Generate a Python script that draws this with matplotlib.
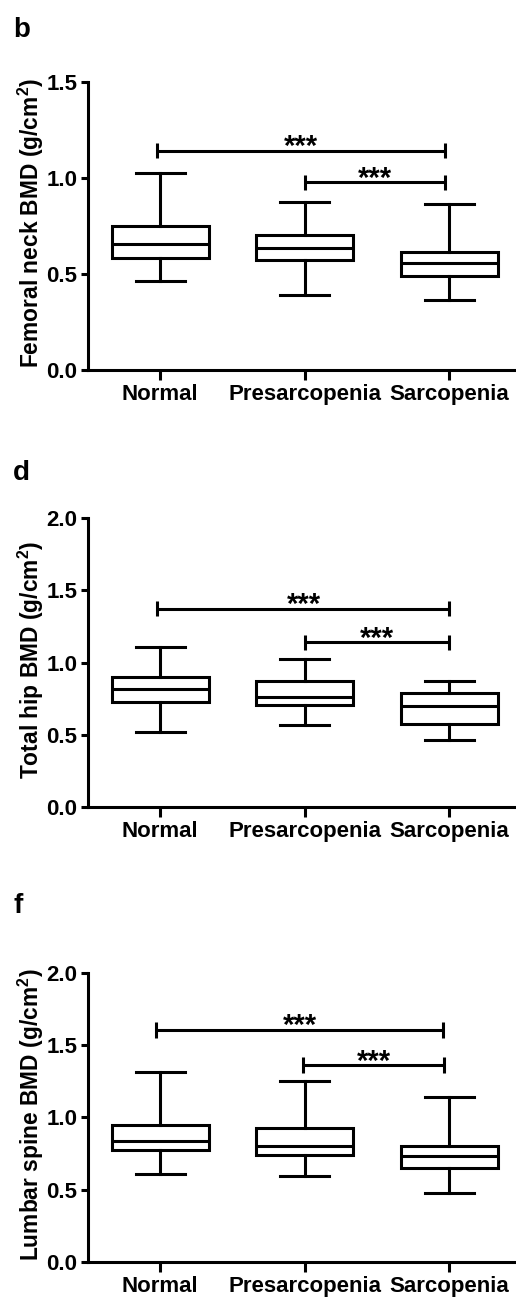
import matplotlib
matplotlib.use('Agg')
import matplotlib.pyplot as plt
from matplotlib.ticker import FormatStrFormatter

plt.rcParams['font.family'] = ['Liberation Sans', 'DejaVu Sans']
plt.rcParams['font.weight'] = 'bold'
plt.rcParams['mathtext.fontset'] = 'custom'
plt.rcParams['mathtext.rm'] = 'Liberation Sans:bold'
plt.rcParams['mathtext.bf'] = 'Liberation Sans:bold'

categories = ['Normal', 'Presarcopenia', 'Sarcopenia']

# Femoral neck BMD (panel b)
fn_whislo = [0.465, 0.388, 0.366]
fn_q1 = [0.584, 0.574, 0.487]
fn_med = [0.654, 0.636, 0.557]
fn_q3 = [0.751, 0.704, 0.612]
fn_whishi = [1.023, 0.876, 0.865]
fn_sig_x = [(-0.02, 1.97), (1.0, 1.97)]
fn_sig_y = [1.141, 0.976]

# Total hip BMD (panel d)
th_whislo = [0.520, 0.566, 0.460]
th_q1 = [0.726, 0.705, 0.573]
th_med = [0.814, 0.758, 0.698]
th_q3 = [0.899, 0.869, 0.791]
th_whishi = [1.105, 1.027, 0.874]
th_sig_x = [(-0.02, 2.0), (1.0, 2.0)]
th_sig_y = [1.373, 1.140]

# Lumbar spine BMD (panel f)
ls_whislo = [0.606, 0.597, 0.476]
ls_q1 = [0.777, 0.742, 0.647]
ls_med = [0.837, 0.805, 0.735]
ls_q3 = [0.948, 0.929, 0.802]
ls_whishi = [1.316, 1.251, 1.142]
ls_sig_x = [(-0.03, 1.955), (0.99, 1.96)]
ls_sig_y = [1.607, 1.362]

sig_text = '***'

panels = [
    dict(label='b', ylabel=r'Femoral neck BMD (g/cm$^{\mathbf{2}}$)',
         lo=fn_whislo, q1=fn_q1, med=fn_med, q3=fn_q3, hi=fn_whishi,
         sx=fn_sig_x, sy=fn_sig_y, ymax=1.5, yticks=[0.0, 0.5, 1.0, 1.5],
         rect=[0.1705, 0.7147, 0.8295, 0.2223], lab_y=37, tick=0.04),
    dict(label='d', ylabel=r'Total hip BMD (g/cm$^{\mathbf{2}}$)',
         lo=th_whislo, q1=th_q1, med=th_med, q3=th_q3, hi=th_whishi,
         sx=th_sig_x, sy=th_sig_y, ymax=2.0, yticks=[0.0, 0.5, 1.0, 1.5, 2.0],
         rect=[0.1705, 0.3780, 0.8295, 0.2224], lab_y=480, tick=0.054),
    dict(label='f', ylabel=r'Lumbar spine BMD (g/cm$^{\mathbf{2}}$)',
         lo=ls_whislo, q1=ls_q1, med=ls_med, q3=ls_q3, hi=ls_whishi,
         sx=ls_sig_x, sy=ls_sig_y, ymax=2.0, yticks=[0.0, 0.5, 1.0, 1.5, 2.0],
         rect=[0.1705, 0.0272, 0.8295, 0.2224], lab_y=913, tick=0.054),
]

W, H = 516, 1297
fig = plt.figure(figsize=(W / 100, H / 100), dpi=100)
lw = 2.2

for p in panels:
    ax = fig.add_axes(p['rect'])
    stats = []
    for i, c in enumerate(categories):
        stats.append(dict(label=c, whislo=p['lo'][i], q1=p['q1'][i], med=p['med'][i],
                          q3=p['q3'][i], whishi=p['hi'][i]))
    ax.bxp(stats, positions=[0, 1, 2], widths=0.67, capwidths=0.34,
           showfliers=False, patch_artist=True,
           boxprops=dict(facecolor='white', edgecolor='black', linewidth=lw),
           medianprops=dict(color='black', linewidth=lw),
           whiskerprops=dict(color='black', linewidth=lw),
           capprops=dict(color='black', linewidth=lw))
    ax.set_xlim(-0.5, 2.46)
    ax.set_ylim(0, p['ymax'])
    ax.set_yticks(p['yticks'])
    ax.yaxis.set_major_formatter(FormatStrFormatter('%.1f'))
    ax.set_xticks([0, 1, 2])
    ax.set_xticklabels(categories, fontsize=16, fontweight='bold')
    for spine in ['top', 'right']:
        ax.spines[spine].set_visible(False)
    for spine in ['left', 'bottom']:
        ax.spines[spine].set_linewidth(lw)
    ax.tick_params(axis='y', direction='out', length=4.8, width=lw, pad=3,
                   labelsize=16)
    ax.tick_params(axis='x', direction='out', length=7, width=lw, pad=3,
                   labelsize=16)
    for lab in ax.get_yticklabels():
        lab.set_fontweight('bold')
    ax.set_ylabel(p['ylabel'], fontsize=16.4, fontweight='bold')
    ax.yaxis.set_label_coords(-0.133, 0.51)
    ax.yaxis.label.set_verticalalignment('center')
    # significance brackets
    for (x0, x1), y in zip(p['sx'], p['sy']):
        ax.plot([x0, x1], [y, y], color='black', lw=lw, solid_capstyle='butt')
        for xe in (x0, x1):
            ax.plot([xe, xe], [y - p['tick'], y + p['tick']], color='black', lw=lw,
                    solid_capstyle='butt')
        ax.annotate(sig_text, xy=((x0 + x1) / 2, y), xytext=(0, -3),
                    textcoords='offset points', ha='center', va='baseline',
                    fontsize=21, fontweight='bold')
    fig.text(13 / W, 1 - p['lab_y'] / H, p['label'], fontsize=20,
             fontweight='bold', va='baseline', ha='left')

fig.savefig('out.png', dpi=100)
